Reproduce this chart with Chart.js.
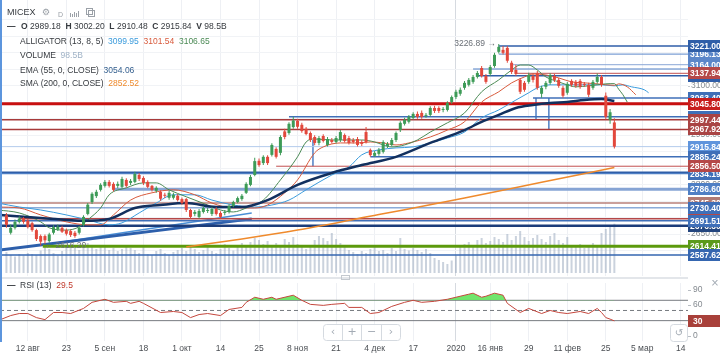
<!DOCTYPE html>
<html lang="ru">
<head>
<meta charset="utf-8">
<title>MICEX</title>
<script src="https://cdn.jsdelivr.net/npm/chart.js@4.4.1/dist/chart.umd.min.js"></script>
<style>
    html, body { margin: 0; padding: 0; background: #ffffff; }
    .chart-box { position: relative; width: 720px; height: 353px; overflow: hidden; }
    .pane { position: absolute; left: 0; width: 720px; }
    #pricePane { top: 0; height: 280px; }
    #rsiPane { top: 280px; height: 73px; }
</style>
</head>
<body>
<div class="chart-box">
    <div class="pane" id="pricePane"><canvas id="priceChart"></canvas></div>
    <div class="pane" id="rsiPane"><canvas id="rsiChart"></canvas></div>
</div>
<script>
// ===== DATA =====

// x axis counts trading days, day 0 = 12 Aug 2019
const tickDays = [0, 9, 18, 27, 36, 45, 54, 63, 72, 81, 90, 100, 108, 117, 126, 135, 143.5, 152.5];
const tickLabels = ['12 авг', '23', '5 сен', '18', '1 окт', '14', '25', '8 ноя', '21', '4 дек', '17', '2020', '16 янв', '29', '11 фев', '25', '5 мар', '14'];
const yearStartDay = 100;
const viewFirstDay = -6.5;
const viewLastDay = 154.2;

// price axis
const priceMin = 2524;
const priceMax = 3360;
const priceTickLabels = [3100, 2950, 2800, 2650];

// daily candles, the first one is 5 Aug 2019 (day -5)
const firstCandleDay = -5;
const opens = [
    2708, 2655, 2670, 2688, 2698, 2692, 2684, 2663, 2645, 2645,
    2630, 2655, 2665, 2670, 2663, 2660, 2655, 2655, 2679, 2712,
    2748, 2766, 2785, 2797, 2809, 2803, 2797, 2794, 2815, 2806,
    2809, 2830, 2821, 2809, 2797, 2782, 2779, 2770, 2761, 2761,
    2767, 2757, 2757, 2724, 2712, 2703, 2718, 2721, 2712, 2727,
    2715, 2715, 2718, 2736, 2748, 2757, 2776, 2800, 2830, 2873,
    2866, 2885, 2891, 2909, 2897, 2962, 2957, 2975, 2994, 2982,
    2970, 2957, 2945, 2927, 2948, 2921, 2936, 2930, 2936, 2951,
    2942, 2936, 2939, 2930, 2960, 2906, 2888, 2894, 2900, 2918,
    2921, 2936, 2966, 2985, 2991, 3003, 3015, 3018, 3009, 3012,
    3033, 3033, 3027, 3027, 3051, 3066, 3076, 3094, 3103, 3112,
    3127, 3154, 3130, 3136, 3160, 3203, 3209, 3215, 3170, 3148,
    3118, 3109, 3112, 3130, 3139, 3076, 3097, 3109, 3130, 3118,
    3094, 3079, 3115, 3112, 3115, 3106, 3103, 3094, 3112, 3127,
    3070, 2997, 2989.18
];
const highs = [
    2715, 2680, 2695, 2705, 2703, 2697, 2688, 2667, 2650, 2650,
    2655, 2678, 2680, 2676, 2668, 2665, 2660, 2675, 2708, 2745,
    2778, 2785, 2805, 2815, 2815, 2808, 2810, 2825, 2820, 2818,
    2840, 2836, 2826, 2814, 2800, 2796, 2784, 2776, 2782, 2776,
    2772, 2762, 2760, 2728, 2724, 2727, 2735, 2730, 2733, 2732,
    2720, 2724, 2741, 2752, 2765, 2772, 2808, 2830, 2882, 2880,
    2890, 2890, 2926, 2914, 2950, 2970, 2990, 3006, 3000, 2988,
    2975, 2962, 2950, 2948, 2953, 2945, 2942, 2948, 2966, 2956,
    2948, 2942, 2945, 2936, 2975, 2910, 2903, 2912, 2935, 2930,
    2942, 2962, 2993, 3003, 3012, 3020, 3022, 3025, 3018, 3038,
    3040, 3038, 3036, 3053, 3071, 3088, 3095, 3115, 3124, 3133,
    3145, 3160, 3136, 3163, 3200, 3226.89, 3221, 3221, 3176, 3164,
    3124, 3115, 3140, 3137, 3145, 3100, 3115, 3138, 3136, 3124,
    3100, 3112, 3120, 3118, 3121, 3112, 3109, 3118, 3137, 3133,
    3080, 3030, 3002.20
];
const lows = [
    2670, 2650, 2665, 2683, 2682, 2668, 2658, 2630, 2616.20, 2622,
    2625, 2650, 2660, 2654, 2647, 2642, 2640, 2650, 2674, 2708,
    2742, 2760, 2780, 2792, 2792, 2780, 2790, 2790, 2792, 2800,
    2805, 2812, 2800, 2790, 2780, 2776, 2752, 2760, 2755, 2756,
    2750, 2740, 2718, 2698, 2705, 2698, 2713, 2715, 2706, 2707,
    2698, 2708, 2713, 2732, 2744, 2752, 2772, 2796, 2826, 2855,
    2860, 2860, 2886, 2880, 2890, 2938, 2952, 2970, 2970, 2958,
    2950, 2930, 2920, 2920, 2928, 2916, 2925, 2925, 2930, 2928,
    2922, 2925, 2916, 2918, 2925, 2885.2, 2885, 2888, 2895, 2912,
    2916, 2930, 2960, 2980, 2986, 2998, 3000, 3000, 3003, 3007,
    3018, 3018, 3020, 3022, 3046, 3060, 3070, 3088, 3098, 3106,
    3122, 3125, 3106, 3130, 3155, 3198, 3195, 3170, 3136, 3130,
    3075, 3082, 3106, 3110, 3088, 3064, 3090, 3103, 3112, 3094,
    3064, 3073, 3097, 3094, 3091, 3097, 3066, 3088, 3106, 3097,
    2998, 2985, 2910.48
];
const closes = [
    2679, 2670, 2688, 2698, 2688, 2672, 2663, 2636, 2628, 2632,
    2650, 2672, 2673, 2658, 2652, 2648, 2645, 2670, 2703, 2740,
    2773, 2779, 2800, 2809, 2797, 2785, 2803, 2818, 2797, 2812,
    2833, 2818, 2806, 2794, 2785, 2791, 2758, 2767, 2776, 2770,
    2754, 2745, 2724, 2703, 2718, 2721, 2730, 2724, 2727, 2712,
    2703, 2718, 2736, 2748, 2760, 2767, 2803, 2824, 2872, 2860,
    2885, 2866, 2921, 2885, 2945, 2945, 2985, 2995, 2976, 2963,
    2954, 2936, 2927, 2942, 2933, 2939, 2930, 2942, 2960, 2933,
    2927, 2930, 2921, 2924, 2930, 2890, 2897, 2906, 2930, 2924,
    2936, 2957, 2988, 2997, 3006, 3015, 3006, 3006, 3012, 3033,
    3024, 3024, 3030, 3048, 3066, 3082, 3088, 3109, 3118, 3127,
    3139, 3130, 3112, 3157, 3194, 3218, 3200, 3176, 3142, 3136,
    3082, 3088, 3133, 3118, 3094, 3094, 3109, 3133, 3118, 3100,
    3070, 3106, 3103, 3100, 3097, 3103, 3073, 3112, 3127, 3103,
    3006, 3020, 2915.84
];
// turnover, bln RUB
const volumes = [
    42, 36, 33, 38, 35, 40, 38, 36, 45, 55, 48, 40, 35,
    44, 52, 56, 50, 46, 58, 60, 54, 48, 56, 52, 46, 50, 44, 48, 55, 50, 46, 40, 52,
    38, 36, 44, 48, 40, 36, 42, 46, 50, 44, 55, 48, 42, 46, 52, 44, 40, 48, 58, 50, 45, 52, 60, 55, 62,
    70, 66, 58, 64, 55, 60, 52, 68, 62, 72, 58, 52, 48, 56, 66, 74, 70, 64, 80, 68, 60, 55,
    46, 42, 38, 44, 40, 48, 52, 44, 46, 40, 50, 44, 70, 48, 45, 50, 46, 42, 48, 40, 30, 26, 22, 18, 25,
    35, 52, 58, 62, 55, 66, 70, 60, 64, 72, 68, 62, 78, 66, 74, 84, 72, 64, 70, 76,
    68, 62, 74, 80, 66, 60, 72, 56, 52, 58, 50, 54, 60, 56, 80, 88, 92, 98.5
];

// Alligator (13, 8, 5)
const jawDays = [-7, -2, 3, 9, 14, 19, 22, 26, 30, 34, 39, 43, 48, 53, 57, 61, 65, 71, 75, 78,
    82, 86, 90, 94, 98, 102, 106, 110, 114, 117, 119, 122, 126, 130, 134, 137, 139, 141, 144, 145];
const jawValues = [2745, 2733, 2724, 2709, 2694, 2679, 2685, 2715, 2745, 2770, 2770, 2754, 2739, 2733, 2739, 2754, 2785, 2830, 2854, 2891,
    2906, 2912, 2915, 2927, 2942, 2960, 3003, 3027, 3057, 3079, 3094, 3103, 3103, 3103, 3103, 3099.95, 3103, 3097, 3088, 3079];
const teethDays = [-7, -2, 3, 9, 14, 17, 20, 24, 29, 34, 39, 43, 48, 53, 56, 60, 63, 67, 69, 73,
    77, 80, 83, 86, 89, 94, 98, 102, 106, 110, 113, 116, 118, 121, 124, 127, 130, 133, 137, 138, 140, 142];
const teethValues = [2733, 2730, 2709, 2688, 2679, 2679, 2709, 2754, 2776, 2785, 2770, 2745, 2730, 2730, 2739, 2776, 2815, 2897, 2915, 2927,
    2927, 2930, 2927, 2921, 2927, 2945, 2966, 2991, 3051, 3082, 3109, 3127, 3136, 3133, 3124, 3112, 3109, 3106, 3101.54, 3106, 3097, 3073];
const lipsDays = [-7, -2, 3, 5, 9, 12, 14, 17, 19, 23, 27, 30, 33, 37, 42, 45, 48, 51, 55, 59,
    63, 65, 67, 71, 74, 78, 81, 83, 85, 88, 91, 94, 98, 102, 106, 110, 113, 115, 117, 119,
    121, 124, 126, 128, 131, 133, 135, 137, 138, 139, 140];
const lipsValues = [2724, 2715, 2688, 2670, 2663, 2673, 2694, 2730, 2770, 2791, 2806, 2806, 2785, 2764, 2739, 2724, 2718, 2730, 2754, 2815,
    2885, 2930, 2939, 2936, 2936, 2936, 2930, 2921, 2915, 2921, 2936, 2960, 2988, 3018, 3082, 3118, 3148, 3163, 3163, 3148,
    3127, 3112, 3103, 3097, 3100, 3103, 3106, 3106.65, 3090, 3073, 3051];

// EMA (55) and SMA (200)
const emaDays = [-7, 3, 13, 19, 25, 31, 37, 44, 50, 56, 63, 71, 78, 86, 94, 102, 106, 110, 114, 118, 122, 126, 130, 134, 137];
const emaValues = [2709, 2700, 2691, 2697, 2730, 2739, 2745, 2733, 2733, 2754, 2800, 2836, 2860, 2885, 2927, 2966, 2991, 3012, 3033, 3042, 3048, 3051, 3057, 3060, 3054.06];
const smaDays = [37, 50, 63, 82, 102, 120, 137];
const smaValues = [2612, 2636, 2663, 2710, 2760, 2808, 2852.52];

// horizontal levels (listed in the order their price boxes are stacked)
const levelPrices = [3130.20, 3151.00, 3063.40, 3006.10, 2745.30, 2697.20, 2676.30, 2838.60,
    3196.13, 3164.00, 3221.00, 3137.94, 3045.80, 2997.44, 2967.92, 2834.19,
    2915.84, 2885.24, 2856.50, 2786.60, 2730.40, 2691.51, 2614.41, 2587.62];
const levelFromDays = [105, 104, 118, 61, null, -2, null, null,
    110, 112.6, 110, 113.8, null, null, null, null,
    null, 80, 58, 20, null, null, 3.5, null];

// trend lines and vertical markers
const trendDays = [[-7, 52.3], [3.5, 52.3]];
const trendValues = [[2602, 2697], [2618, 2715]];
const markerDays = [66.6, 118.7, 121.7];
const markerTops = [2936, 3063.4, 3063.4];
const markerBottoms = [2856.5, 2997.44, 2967.92];

// RSI (13)
const rsiDays = [-7, -4, -2, 0, 2, 4, 6, 8, 10, 13, 15, 18, 20, 23, 24, 26, 27, 31, 34, 36,
    38, 40, 42, 45, 47, 50, 51, 53, 55, 57, 58, 62, 64, 66, 69, 71, 74, 75, 78, 80,
    82, 85, 88, 90, 92, 95, 98, 100, 103, 104, 106, 107, 109, 111, 112, 115, 117, 120, 122, 124,
    126, 129, 131, 133, 134, 135, 136, 137];
const rsiValues = [30, 40, 44, 44, 36, 32, 46, 46, 44, 54, 66, 72, 66, 68, 64, 68, 64, 46, 48, 46,
    36, 42, 44, 40, 52, 56, 66, 76, 72, 76, 72, 80, 70, 62, 60, 62, 64, 56, 56, 44,
    46, 58, 66, 70, 66, 68, 72, 76, 82, 84, 76, 78, 84, 80, 64, 46, 54, 44, 50, 46,
    44, 48, 44, 54, 46, 36, 33, 29.5];
const rsiLevels = [70, 50, 30];
const rsiTickLabels = [90, 60, 30, 0];

// ===== STYLE =====

const FONT = '"Liberation Sans", Arial, sans-serif';
const TEXT = '#363a3f';
const AXIS_TEXT = '#83898f';
const FRAME_BLUE = '#5c95dd';
const UP_COLOR = '#3d9b57';
const DOWN_COLOR = '#e2483c';
const VOLUME_COLOR = 'rgba(150, 166, 188, 0.5)';
const JAW_COLOR = '#3a9bdc';
const TEETH_COLOR = '#d85a3c';
const LIPS_COLOR = '#4b8a55';
const EMA_COLOR = '#12305e';
const SMA_COLOR = '#ef8a2c';

const levelColors = ['#2f5ea8', '#4f7fc4', '#3f6fb8', '#3f6fb8', '#b8807a', '#b54848', '#1c3c7a', '#2f5ea8',
    '#5b86c9', '#8aa6d6', '#2f5ea8', '#c25050', '#c81010', '#a83a3a', '#a83a3a', '#4f7fc4',
    '#b3cbec', '#3f6fb8', '#c25050', '#86a4d4', '#4f7fc4', '#3f6fb8', '#5c9a0c', '#3566b0'];
const levelWidths = [1.5, 1, 1.5, 1.5, 1.5, 1.5, 2.5, 1.5,
    1, 1, 1.5, 1, 3, 1.5, 1.5, 1.5,
    1, 1.5, 1, 3, 1, 1.5, 3, 1.5];
const levelBoxColors = ['#2f5ea8', '#3f6fb8', '#3f6fb8', '#3f6fb8', '#b07a74', '#b54848', '#24467f', '#2f5ea8',
    '#5b86c9', '#5b86c9', '#2f5ea8', '#b54848', '#c81e1e', '#a94444', '#a94444', '#3f6fb8',
    '#5f94dc', '#3f6fb8', '#b54848', '#4f7fc4', '#3f6fb8', '#3f6fb8', '#5a9a1a', '#3566b0'];

Chart.defaults.font.family = FONT;

// ===== HELPERS =====

const toPoints = (xs, ys) => xs.map((x, k) => ({ x, y: ys[k] }));
const valueAt = (days, values, day) => values[days.indexOf(day)];
const candleDays = closes.map((c, k) => firstCandleDay + k);
const candleColor = k => closes[k] >= opens[k] ? UP_COLOR : DOWN_COLOR;

function lineSet(points, color, width, extra) {
    return Object.assign({
        type: 'line',
        data: points,
        borderColor: color,
        borderWidth: width,
        pointRadius: 0,
        fill: false,
        tension: 0,
        yAxisID: 'y',
        order: 4
    }, extra || {});
}

function drawParts(ctx, x, y, parts) {
    parts.forEach(([text, color, weight]) => {
        ctx.font = `${weight || 'normal'} 8.5px ${FONT}`;
        ctx.fillStyle = color;
        ctx.fillText(text, x, y);
        x += ctx.measureText(text).width;
    });
}

function drawLegend(ctx) {
    const last = closes.length - 1;
    ctx.textAlign = 'left';
    ctx.textBaseline = 'middle';

    ctx.font = `9px ${FONT}`;
    ctx.fillStyle = TEXT;
    ctx.fillText('MICEX', 7, 13);

    // small toolbar icons next to the symbol
    ctx.fillStyle = '#9aa0a7';
    ctx.font = '9px "DejaVu Sans"';
    ctx.fillText('⚙', 42, 13);
    ctx.font = `7px ${FONT}`;
    ctx.fillText('D', 58, 15);
    [[70, 4], [72, 3], [74, 5], [76, 4], [78, 6]].forEach(([bx, bh]) => ctx.fillRect(bx, 17 - bh, 1, bh));
    ctx.strokeStyle = '#9aa0a7';
    ctx.lineWidth = 1;
    ctx.strokeRect(86.5, 8.5, 6, 6);
    ctx.strokeRect(88.5, 10.5, 6, 6);

    drawParts(ctx, 7, 27, [['—', TEXT, 'bold']]);
    drawParts(ctx, 21, 27, [
        ['O ', TEXT, 'bold'], [opens[last].toFixed(2) + '  ', TEXT],
        ['H ', TEXT, 'bold'], [highs[last].toFixed(2) + '  ', TEXT],
        ['L ', TEXT, 'bold'], [lows[last].toFixed(2) + '  ', TEXT],
        ['C ', TEXT, 'bold'], [closes[last].toFixed(2) + '  ', TEXT],
        ['V ', TEXT, 'bold'], [volumes[last] + 'B', TEXT]
    ]);
    drawParts(ctx, 20, 42, [
        ['ALLIGATOR (13, 8, 5)  ', TEXT],
        [valueAt(jawDays, jawValues, 137).toFixed(2) + '  ', JAW_COLOR],
        [valueAt(teethDays, teethValues, 137).toFixed(2) + '  ', TEETH_COLOR],
        [valueAt(lipsDays, lipsValues, 137).toFixed(2), LIPS_COLOR]
    ]);
    drawParts(ctx, 20, 56, [['VOLUME  ', TEXT], [volumes[last] + 'B', '#9fb2c6']]);
    drawParts(ctx, 20, 71, [['EMA (55, 0, CLOSE)  ', TEXT], [emaValues[emaValues.length - 1].toFixed(2), '#35608f']]);
    drawParts(ctx, 20, 84, [['SMA (200, 0, CLOSE)  ', TEXT], [smaValues[smaValues.length - 1].toFixed(2), SMA_COLOR]]);
}

// ===== PLUGINS =====

const priceOverlay = {
    id: 'priceOverlay',
    afterDraw(chart) {
        const { ctx, chartArea, scales } = chart;
        const xScale = scales.x;
        const yScale = scales.y;
        const right = chartArea.right;
        ctx.save();
        ctx.textBaseline = 'middle';
        ctx.textAlign = 'left';

        // grey axis labels, most of them end up under the level boxes
        ctx.font = `8.5px ${FONT}`;
        priceTickLabels.forEach(p => {
            const py = Math.round(yScale.getPixelForValue(p));
            ctx.fillStyle = '#c3c8ce';
            ctx.fillRect(right, py, 2, 1);
            ctx.fillStyle = AXIS_TEXT;
            ctx.fillText(p.toFixed(2), right + 3, py);
        });

        // coloured level boxes
        ctx.font = `bold 8.5px ${FONT}`;
        levelPrices.forEach((p, k) => {
            const py = Math.round(yScale.getPixelForValue(p));
            ctx.fillStyle = levelBoxColors[k];
            ctx.fillRect(right, py - 6, chart.width - right, 12);
            ctx.fillStyle = '#ffffff';
            ctx.fillText(p.toFixed(2), right + 2, py + 0.5);
        });

        // high / low marks
        const hiIdx = highs.indexOf(Math.max(...highs));
        const loIdx = lows.indexOf(Math.min(...lows));
        ctx.font = `8.5px ${FONT}`;
        ctx.fillStyle = '#6b7077';
        ctx.textAlign = 'right';
        ctx.fillText(highs[hiIdx].toFixed(2) + ' →', xScale.getPixelForValue(candleDays[hiIdx]) - 3, yScale.getPixelForValue(highs[hiIdx]));
        ctx.textAlign = 'left';
        ctx.fillText('← ' + lows[loIdx].toFixed(2), xScale.getPixelForValue(candleDays[loIdx]) + 4, yScale.getPixelForValue(lows[loIdx]));

        drawLegend(ctx);

        // pane separator with its drag handle
        ctx.fillStyle = '#e3e6ea';
        ctx.fillRect(0, chartArea.bottom + 1, right, 2);
        ctx.strokeStyle = '#c4c9cf';
        ctx.lineWidth = 1;
        ctx.strokeRect(341.5, chartArea.bottom - 0.5, 8, 4);

        ctx.fillStyle = FRAME_BLUE;
        ctx.fillRect(0, 0, 2, chart.height);
        ctx.restore();
    }
};

const rsiOverlay = {
    id: 'rsiOverlay',
    afterDraw(chart) {
        const { ctx, chartArea, scales } = chart;
        const yScale = scales.y;
        const right = chartArea.right;
        ctx.save();
        ctx.textBaseline = 'middle';
        ctx.textAlign = 'left';

        ctx.font = `8.5px ${FONT}`;
        rsiTickLabels.forEach(v => {
            const py = Math.round(yScale.getPixelForValue(v));
            ctx.fillStyle = '#b8bdc3';
            ctx.fillRect(right, py, 3, 1);
            ctx.fillStyle = AXIS_TEXT;
            ctx.fillText(String(v), right + 5, py);
        });

        // current value box
        const lastRsi = rsiValues[rsiValues.length - 1];
        const vy = Math.round(yScale.getPixelForValue(lastRsi));
        ctx.fillStyle = '#a8403a';
        ctx.fillRect(right, vy - 6, chart.width - right, 12);
        ctx.fillStyle = '#ffffff';
        ctx.font = `bold 8.5px ${FONT}`;
        ctx.fillText(String(Math.round(lastRsi)), right + 5, vy + 0.5);

        // title
        drawParts(ctx, 7, 6, [['—', TEXT, 'bold']]);
        drawParts(ctx, 20, 6, [['RSI (13)  ', TEXT], [String(lastRsi), '#c0392b']]);

        // scroll / zoom buttons
        ctx.strokeStyle = '#d5dae0';
        ctx.lineWidth = 1;
        ctx.fillStyle = 'rgba(255, 255, 255, 0.9)';
        ctx.beginPath();
        ctx.roundRect(323.5, 44.5, 77, 16, 3);
        ctx.fill();
        ctx.stroke();
        ctx.beginPath();
        [342.5, 361.5, 381.5].forEach(bx => { ctx.moveTo(bx, 44.5); ctx.lineTo(bx, 60.5); });
        ctx.stroke();
        ctx.beginPath();
        ctx.roundRect(670.5, 44.5, 17, 17, 3);
        ctx.fill();
        ctx.stroke();

        ctx.fillStyle = '#a3abb4';
        ctx.textAlign = 'center';
        ctx.font = '11px "DejaVu Sans"';
        [['‹', 333], ['+', 352], ['−', 371.5], ['›', 391]].forEach(([g, gx]) => ctx.fillText(g, gx, 52.5));
        ctx.font = '10px "DejaVu Sans"';
        ctx.fillText('↺', 679, 53);
        ctx.fillText('×', 715, 3);

        ctx.fillStyle = FRAME_BLUE;
        ctx.fillRect(0, 0, 2, chartArea.bottom + 1);
        ctx.restore();
    }
};

// ===== CHARTS =====

const dayTicks = scale => { scale.ticks = tickDays.map(v => ({ value: v })); };
const dayGridColor = ctx => ctx.tick && ctx.tick.value === yearStartDay ? '#d6dae0' : '#eef0f4';

const priceDatasets = [
    {
        type: 'bar', label: 'body',
        data: candleDays.map((d, k) => ({ x: d, y: [opens[k], closes[k]] })),
        backgroundColor: c => candleColor(c.dataIndex),
        barThickness: 3, grouped: false, inflateAmount: 0, yAxisID: 'y', order: 0
    },
    {
        type: 'bar', label: 'wick',
        data: candleDays.map((d, k) => ({ x: d, y: [lows[k], highs[k]] })),
        backgroundColor: c => candleColor(c.dataIndex),
        barThickness: 1, grouped: false, inflateAmount: 0, yAxisID: 'y', order: 1
    },
    lineSet(toPoints(emaDays, emaValues), EMA_COLOR, 2.5, { cubicInterpolationMode: 'monotone', order: 2 }),
    lineSet(toPoints(lipsDays, lipsValues), LIPS_COLOR, 1, { cubicInterpolationMode: 'monotone', order: 3 }),
    lineSet(toPoints(teethDays, teethValues), TEETH_COLOR, 1, { cubicInterpolationMode: 'monotone', order: 3 }),
    lineSet(toPoints(jawDays, jawValues), JAW_COLOR, 1, { cubicInterpolationMode: 'monotone', order: 3 }),
    lineSet(toPoints(smaDays, smaValues), SMA_COLOR, 1.5, { cubicInterpolationMode: 'monotone', order: 3 }),
    {
        type: 'bar', label: 'volume',
        data: candleDays.map((d, k) => ({ x: d, y: volumes[k] })),
        backgroundColor: VOLUME_COLOR,
        barThickness: 2, grouped: false, inflateAmount: 0, yAxisID: 'vol', order: 9
    }
];

levelPrices.forEach((p, k) => {
    const from = levelFromDays[k] === null ? viewFirstDay : levelFromDays[k];
    priceDatasets.push(lineSet(toPoints([from, viewLastDay], [p, p]), levelColors[k], levelWidths[k]));
});
trendDays.forEach((days, k) => {
    priceDatasets.push(lineSet(toPoints(days, trendValues[k]), k === 0 ? '#2d5fab' : '#4a8fd6', k === 0 ? 3 : 1.5));
});
markerDays.forEach((d, k) => {
    priceDatasets.push(lineSet(toPoints([d, d], [markerTops[k], markerBottoms[k]]), '#4f7fc4', 1.5));
});

new Chart(document.getElementById('priceChart'), {
    type: 'bar',
    data: { datasets: priceDatasets },
    options: {
        responsive: true,
        maintainAspectRatio: false,
        animation: false,
        layout: { padding: 0 },
        plugins: { legend: { display: false }, tooltip: { enabled: false } },
        scales: {
            x: {
                type: 'linear', min: viewFirstDay, max: viewLastDay, offset: false,
                afterBuildTicks: dayTicks,
                afterFit: s => { s.height = 4; },
                ticks: { display: false },
                grid: { offset: false, drawTicks: false, color: dayGridColor },
                border: { display: false }
            },
            y: {
                type: 'linear', position: 'right', min: priceMin, max: priceMax,
                afterFit: s => { s.width = 32; },
                ticks: { display: false, stepSize: 50 },
                grid: { drawTicks: false, color: c => c.tick && c.tick.value % 50 === 0 ? '#f1f3f6' : 'rgba(0,0,0,0)' },
                border: { display: false }
            },
            vol: { type: 'linear', display: false, min: -6, max: 546 }
        }
    },
    plugins: [priceOverlay]
});

const rsiDatasets = [
    {
        data: toPoints(rsiDays, rsiValues),
        borderColor: '#c4473d', borderWidth: 1, pointRadius: 0, tension: 0,
        fill: { target: { value: 70 }, above: 'rgba(98, 226, 92, 0.9)', below: 'rgba(0, 0, 0, 0)' },
        order: 0
    }
];
rsiLevels.forEach(v => {
    rsiDatasets.push({
        data: toPoints([viewFirstDay, viewLastDay], [v, v]),
        borderColor: '#777b80', borderWidth: 1, pointRadius: 0, fill: false,
        borderDash: v === 50 ? [4, 3] : [], order: 1
    });
});

new Chart(document.getElementById('rsiChart'), {
    type: 'line',
    data: { datasets: rsiDatasets },
    options: {
        responsive: true,
        maintainAspectRatio: false,
        animation: false,
        layout: { padding: { top: 3 } },
        plugins: { legend: { display: false }, tooltip: { enabled: false } },
        scales: {
            x: {
                type: 'linear', min: viewFirstDay, max: viewLastDay,
                afterBuildTicks: dayTicks,
                afterFit: s => { s.height = 12; },
                ticks: {
                    color: '#4a4e53', font: { size: 8.5 }, padding: 3,
                    maxRotation: 0, autoSkip: false,
                    callback: (v, i) => tickLabels[i]
                },
                grid: { drawTicks: false, color: dayGridColor },
                border: { display: false }
            },
            y: {
                type: 'linear', position: 'right', min: -10, max: 104,
                afterFit: s => { s.width = 32; },
                ticks: { display: false },
                grid: { display: false },
                border: { display: false }
            }
        }
    },
    plugins: [rsiOverlay]
});
</script>
</body>
</html>
